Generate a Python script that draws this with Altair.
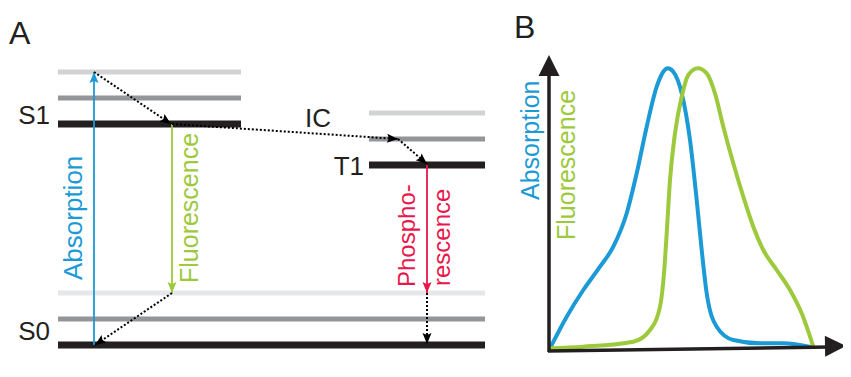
import math
import altair as alt
import pandas as pd

# ---------------- Panel A : Jablonski diagram (diagram coordinates) ----------------
level_names = ["S1 v2", "S1 v1", "S1", "S0 v2", "S0 v1", "S0", "T1 v2", "T1 v1", "T1"]
level_x1 = [58, 58, 58, 58, 58, 58, 369, 369, 369]
level_x2 = [241, 241, 241, 485, 485, 485, 485, 485, 485]
level_y = [72, 98, 124, 293, 319, 345, 113, 139, 165]
level_color = ["#d1d3d4", "#939598", "#231f20", "#e6e7e8", "#939598", "#231f20",
               "#d1d3d4", "#939598", "#231f20"]
level_width = [5, 5, 7, 5, 5, 7, 5, 5, 7]

# radiative transitions (solid coloured arrows)
trans_names = ["Absorption", "Fluorescence", "Phosphorescence"]
trans_x1 = [94, 172, 427]
trans_y1 = [345, 124, 165]
trans_x2 = [94, 172, 427]
trans_y2 = [72, 293, 293]
trans_color = ["#1b9ad6", "#9dc93c", "#e8174c"]

# non-radiative transitions (dotted arrows)
dot_x1 = [94, 172, 398, 172, 427]
dot_y1 = [72, 124, 139, 293, 293]
dot_x2 = [171, 398, 427, 95, 427]
dot_y2 = [124, 139, 164, 345, 344]

# ---------------- Panel B : spectra ----------------
abs_x = [550.0, 566.7, 583.3, 600.0, 613.3, 626.7, 636.7, 646.7, 656.7, 663.3, 667.7,
         673.3, 681.7, 690.0, 696.7, 701.7, 706.7, 716.7, 733.3, 760.0, 783.3, 811.7]
abs_y = [348.3, 316.7, 290.0, 266.7, 246.7, 213.3, 173.3, 126.7, 86.7, 71.7, 68.3,
         71.7, 93.3, 140.0, 200.0, 250.0, 293.3, 326.7, 340.0, 343.3, 343.3, 347.3]
flu_x = [550.0, 583.3, 633.3, 650.0, 660.0, 664.0, 666.7, 670.0, 675.0, 681.7, 688.3,
         697.7, 706.7, 715.0, 723.3, 733.3, 743.3, 753.3, 763.3, 776.7, 790.0, 801.7, 813.3]
flu_y = [348.3, 346.7, 341.7, 330.0, 306.7, 273.3, 233.3, 180.0, 133.3, 96.7, 75.0,
         68.3, 73.3, 93.3, 126.7, 163.3, 196.7, 226.7, 250.0, 270.0, 290.0, 313.3, 346.7]

axis_x1 = [549, 548]
axis_y1 = [352, 351]
axis_x2 = [549, 830]
axis_y2 = [72, 347]
axis_tip_x = [549, 846]
axis_tip_y = [55, 346]

# ---------------- Text ----------------
lab_left_text = ["A", "B", "IC", "λ"]
lab_left_x = [9, 514, 305, 841]
lab_left_y = [44, 38, 127, 390]
lab_left_size = [32, 32, 26, 26]

lab_right_text = ["S1", "S0", "T1"]
lab_right_x = [50, 50, 364]
lab_right_y = [124, 340, 175]

rot_text = ["Absorption", "Fluorescence", "Phospho-", "rescence", "Absorption", "Fluorescence"]
rot_x = [82, 198, 415, 450, 539, 575]
rot_y = [280, 283, 287, 286, 200, 240]
rot_size = [26, 25, 24, 24, 25, 25]
rot_color = ["#1b9ad6", "#9dc93c", "#e8174c", "#e8174c", "#1b9ad6", "#9dc93c"]

FONT = "Liberation Sans"
INK = "#231f20"

XS = alt.Scale(domain=[8, 843], nice=False, zero=False)
YS = alt.Scale(domain=[8, 369], nice=False, zero=False, reverse=True)


def X(f):
    return alt.X(f, type="quantitative", scale=XS, axis=None)


def Y(f):
    return alt.Y(f, type="quantitative", scale=YS, axis=None)


def head_angle(x1, y1, x2, y2):
    return math.degrees(math.atan2(x2 - x1, -(y2 - y1))) % 360


levels = pd.DataFrame(dict(name=level_names, x1=level_x1, x2=level_x2, y=level_y,
                           color=level_color, w=level_width))
trans = pd.DataFrame(dict(name=trans_names, x1=trans_x1, y1=trans_y1, x2=trans_x2,
                          y2=trans_y2, color=trans_color))
dots = pd.DataFrame(dict(x1=dot_x1, y1=dot_y1, x2=dot_x2, y2=dot_y2))

heads = pd.DataFrame(dict(
    x=trans_x2 + dot_x2,
    y=trans_y2 + dot_y2,
    color=trans_color + ["#000000"] * len(dot_x2),
    angle=[head_angle(a, b, c, d) for a, b, c, d in zip(trans_x1, trans_y1, trans_x2, trans_y2)]
    + [head_angle(a, b, c, d) for a, b, c, d in zip(dot_x1, dot_y1, dot_x2, dot_y2)],
))

spectra = pd.concat([
    pd.DataFrame(dict(x=abs_x, y=abs_y, series="Absorption", color="#1b9ad6")),
    pd.DataFrame(dict(x=flu_x, y=flu_y, series="Fluorescence", color="#9dc93c")),
])

axes_df = pd.DataFrame(dict(x1=axis_x1, y1=axis_y1, x2=axis_x2, y2=axis_y2))
axis_heads = pd.DataFrame(dict(
    x=axis_tip_x, y=axis_tip_y,
    angle=[head_angle(a, b, c, d) for a, b, c, d in zip(axis_x1, axis_y1, axis_tip_x, axis_tip_y)],
))

left_df = pd.DataFrame(dict(t=lab_left_text, x=lab_left_x, y=lab_left_y, s=lab_left_size))
right_df = pd.DataFrame(dict(t=lab_right_text, x=lab_right_x, y=lab_right_y))
rot_df = pd.DataFrame(dict(t=rot_text, x=rot_x, y=rot_y, s=rot_size, color=rot_color))

level_layer = alt.Chart(levels).mark_rule(strokeCap="butt").encode(
    x=X("x1"), x2="x2", y=Y("y"),
    color=alt.Color("color:N", scale=None),
    strokeWidth=alt.StrokeWidth("w:Q", scale=None),
)

trans_layer = alt.Chart(trans).mark_rule(strokeWidth=1.8, strokeCap="butt").encode(
    x=X("x1"), y=Y("y1"), x2="x2", y2="y2",
    color=alt.Color("color:N", scale=None),
)

dot_layer = alt.Chart(dots).mark_rule(strokeWidth=2, strokeDash=[2, 2], color="#000000").encode(
    x=X("x1"), y=Y("y1"), x2="x2", y2="y2",
)

head_layer = alt.Chart(heads).mark_point(
    shape="M0,0L-0.45,1.1L0,0.9L0.45,1.1Z", filled=True, opacity=1, size=400, strokeWidth=0
).encode(
    x=X("x"), y=Y("y"),
    color=alt.Color("color:N", scale=None),
    angle=alt.Angle("angle:Q", scale=None),
)

spec_layer = alt.Chart(spectra).mark_line(strokeWidth=4, interpolate="monotone").encode(
    x=X("x"), y=Y("y"),
    color=alt.Color("color:N", scale=None),
    detail="series:N",
)

axes_layer = alt.Chart(axes_df).mark_rule(strokeWidth=3.5, color=INK).encode(
    x=X("x1"), y=Y("y1"), x2="x2", y2="y2",
)

axis_head_layer = alt.Chart(axis_heads).mark_point(
    shape="M0,0L-0.5,1L0.5,1Z", filled=True, opacity=1, size=1764, color=INK, strokeWidth=0
).encode(
    x=X("x"), y=Y("y"),
    angle=alt.Angle("angle:Q", scale=None),
)

left_layer = alt.Chart(left_df).mark_text(
    align="left", baseline="alphabetic", font=FONT, color=INK
).encode(x=X("x"), y=Y("y"), text="t:N", size=alt.Size("s:Q", scale=None))

right_layer = alt.Chart(right_df).mark_text(
    align="right", baseline="alphabetic", font=FONT, color=INK, fontSize=26
).encode(x=X("x"), y=Y("y"), text="t:N")

rot_layer = alt.Chart(rot_df).mark_text(
    align="left", baseline="alphabetic", font=FONT, angle=270
).encode(
    x=X("x"), y=Y("y"), text="t:N",
    size=alt.Size("s:Q", scale=None),
    color=alt.Color("color:N", scale=None),
)

chart = alt.layer(
    level_layer, trans_layer, dot_layer, head_layer,
    spec_layer, axes_layer, axis_head_layer,
    left_layer, right_layer, rot_layer,
).properties(
    width=835, height=361, padding=0, autosize=alt.AutoSizeParams(type="none"),
    background="#ffffff",
).configure_view(stroke=None)

chart.save("out.html", embed_options={"renderer": "svg", "actions": False})
